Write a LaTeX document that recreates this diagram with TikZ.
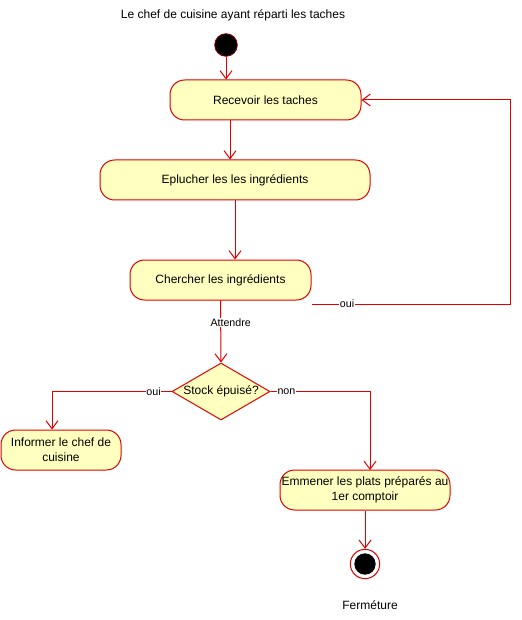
\documentclass[tikz,border=0pt]{standalone}
\usepackage{fontspec}
\setmainfont{Liberation Sans}
\usetikzlibrary{arrows.meta,shapes.geometric,calc}
\definecolor{actfill}{HTML}{FFFFC0}
\definecolor{actline}{HTML}{E00000}
\begin{document}
\begin{tikzpicture}[x=0.75pt,y=-0.75pt,
  font=\fontsize{9pt}{11pt}\selectfont,
  activity/.style={draw=actline,fill=actfill,rounded corners=11pt,
    minimum height=30pt,inner sep=1pt,align=center,line width=0.75pt},
  decision/.style={draw=actline,fill=actfill,diamond,shape aspect=1.72,inner sep=0pt,
    minimum width=73.5pt,minimum height=42.75pt,line width=0.75pt},
  flow/.style={draw=actline,line width=0.75pt,
    -{Straight Barb[length=6pt,width=9pt,line width=0.75pt]}},
  link/.style={draw=actline,line width=0.75pt},
  lbl/.style={fill=white,inner sep=0.5pt,font=\fontsize{8pt}{10pt}\selectfont},
  startnode/.style={circle,fill=black,draw=actline!60!black,minimum size=17pt,inner sep=0pt,line width=0.6pt},
]
\useasboundingbox (0,0) rectangle (521,620);

% title and initial state
\node (title) at (233,15) {Le chef de cuisine ayant réparti les taches};
\node[startnode] (start) at (226,45) {};

% activities
\node[activity,minimum width=143.25pt] (rec) at (265.5,100) {Recevoir les taches};
\node[activity,minimum width=202.5pt] (epl) at (235,180) {Eplucher les les ingrédients};
\node[activity,minimum width=135.75pt] (cher) at (220.5,280) {Chercher les ingrédients};
\node[decision] (dia) at (221,391.5) {Stock épuisé?};
\node[activity,minimum width=90pt] (inf) at (61,450) {Informer le chef de\\cuisine};
\node[activity,minimum width=127.5pt] (emm) at (365,490) {Emmener les plats préparés au\\1er comptoir};

% final state
\node[circle,draw=actline,fill=white,minimum size=22pt,inner sep=0pt,line width=0.75pt] (fin) at (365,564) {};
\node[circle,fill=black,minimum size=16pt,inner sep=0pt] (fincore) at (fin) {};
\node (ferm) at (370,605) {Ferméture};

% transitions
\draw[flow] (start) -- (start |- rec.north);
\draw[flow] ($(rec.south)+(-35.5,0)$) -- ($(epl.north)+(-5,0)$);
\draw[flow] (epl.south) -- (epl.south |- cher.north);
\draw[flow] (cher.south) -- node[lbl,pos=0.35,xshift=7.5pt] {Attendre} (dia.north);
\draw[link] ($(cher.east)+(0,24)$) coordinate (loopstart) -- (347,304) node[lbl] (ouiloop) {oui};
\draw[flow] (ouiloop.east) -- (510,304) |- (rec.east);
\draw[flow] (dia.west) -- node[lbl,pos=0.15] {oui} (52,391.5) -- (inf.north -| 52,0);
\draw[flow] (dia.east) -- node[lbl,pos=0.16] {non} (370,391.5) -- (370,470);
\draw[flow] (emm.south) -- (fin.north);
\end{tikzpicture}
\end{document}
